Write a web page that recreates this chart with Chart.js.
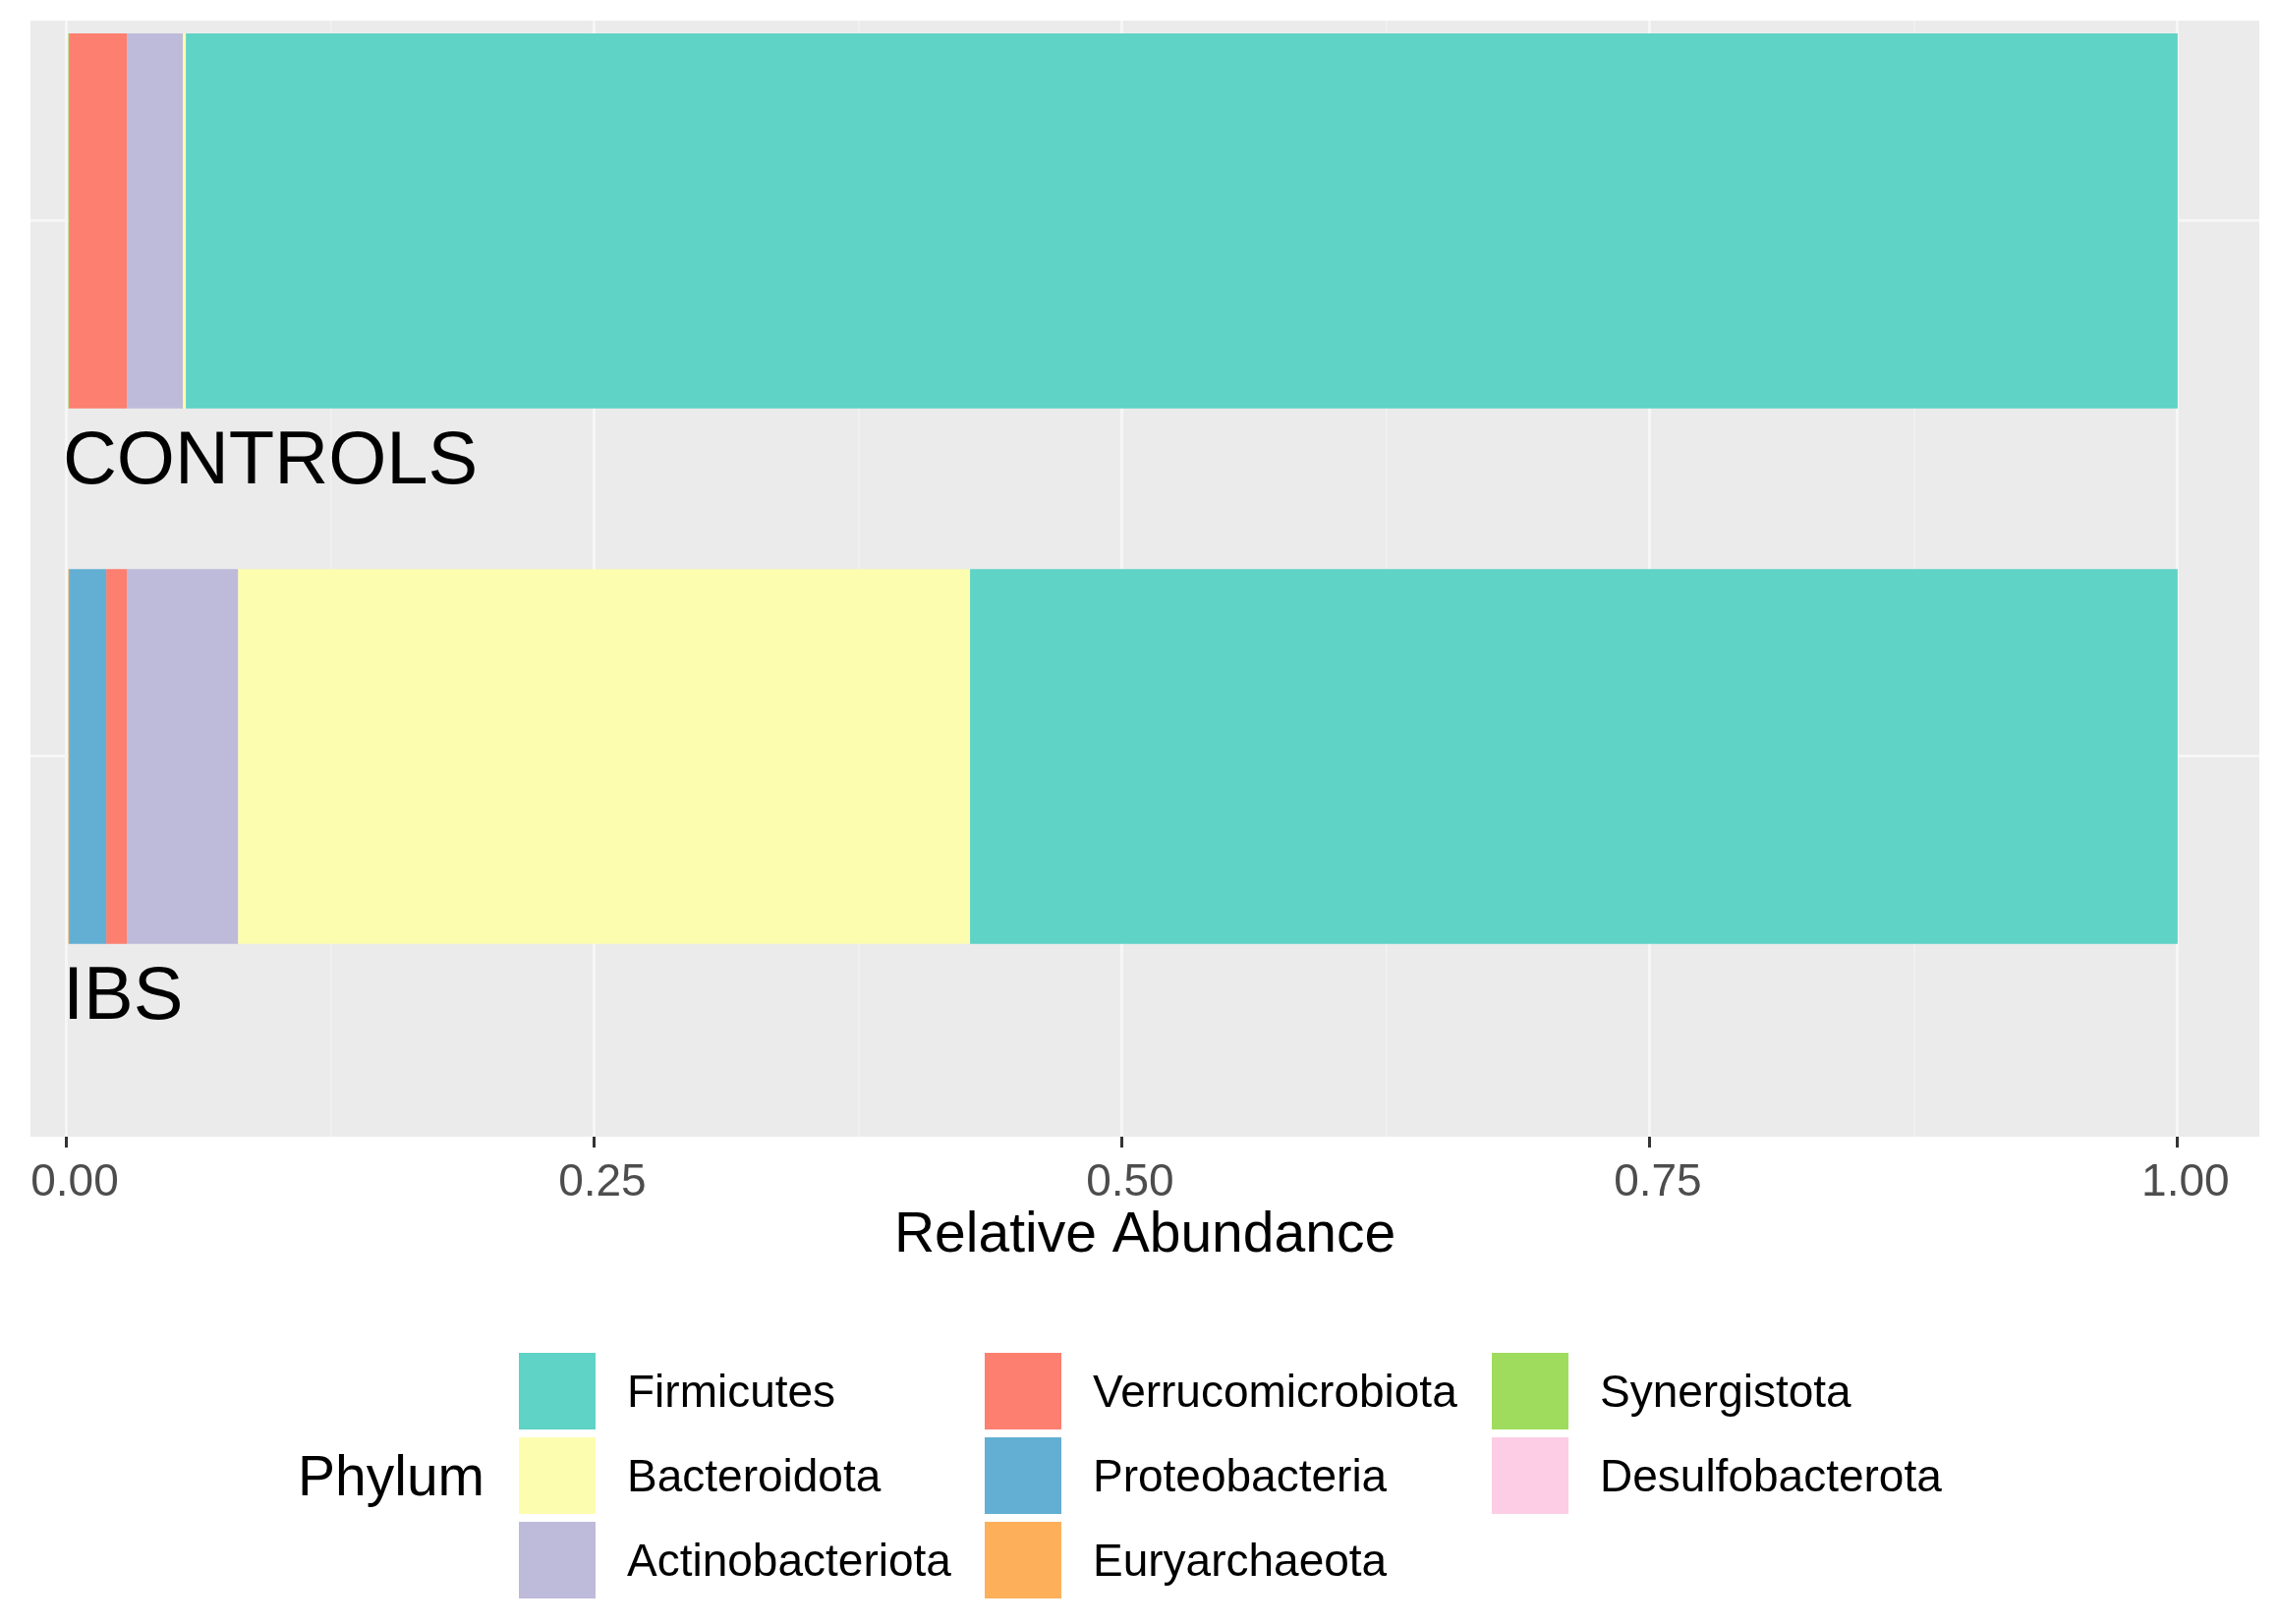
<!DOCTYPE html>
<html>
<head>
<meta charset="utf-8">
<title>Relative Abundance by Phylum</title>
<script src="https://cdn.jsdelivr.net/npm/chart.js@4.4.1/dist/chart.umd.min.js"></script>
<style>
    html, body { margin: 0; padding: 0; background: #ffffff; }
    #chart { display: block; }
</style>
</head>
<body>
<canvas id="chart" width="2318" height="1653"></canvas>
<script>
// Groups, top to bottom
const groups = ['CONTROLS', 'IBS'];

// Phyla in legend order
const phyla = [
    'Firmicutes', 'Bacteroidota', 'Actinobacteriota',
    'Verrucomicrobiota', 'Proteobacteria', 'Euryarchaeota',
    'Synergistota', 'Desulfobacterota'
];

// Relative abundance: [CONTROLS, IBS]
const firmicutes        = [0.9436, 0.5721];
const bacteroidota      = [0.0014, 0.3468];
const actinobacteriota  = [0.0265, 0.0526];
const verrucomicrobiota = [0.0275, 0.0098];
const proteobacteria    = [0.0000, 0.0177];
const euryarchaeota     = [0.0000, 0.0010];
const synergistota      = [0.0010, 0.0000];
const desulfobacterota  = [0.0000, 0.0000];

const xTicks = [0, 0.25, 0.5, 0.75, 1];
const xTickLabels = ['0.00', '0.25', '0.50', '0.75', '1.00'];

const abundance = {
    Firmicutes: firmicutes,
    Bacteroidota: bacteroidota,
    Actinobacteriota: actinobacteriota,
    Verrucomicrobiota: verrucomicrobiota,
    Proteobacteria: proteobacteria,
    Euryarchaeota: euryarchaeota,
    Synergistota: synergistota,
    Desulfobacterota: desulfobacterota
};

const phylumColors = {
    Firmicutes: '#5ED3C6',
    Bacteroidota: '#FDFDB0',
    Actinobacteriota: '#BEBADA',
    Verrucomicrobiota: '#FC7F6F',
    Proteobacteria: '#62AFD3',
    Euryarchaeota: '#FDAF5A',
    Synergistota: '#9FDC5E',
    Desulfobacterota: '#FDCCE5'
};

const FONT = '"Liberation Sans", Arial, sans-serif';

function isMajor(v) {
    return Math.abs(v * 4 - Math.round(v * 4)) < 1e-6;
}

// grey panel behind the grid
const panelBackground = {
    id: 'panelBackground',
    beforeDraw(chart) {
        const { ctx, chartArea } = chart;
        ctx.save();
        ctx.fillStyle = '#EBEBEB';
        ctx.fillRect(chartArea.left, chartArea.top, chartArea.right - chartArea.left, chartArea.bottom - chartArea.top);
        ctx.restore();
    }
};

// group labels, x tick labels, axis title and legend
const annotations = {
    id: 'annotations',
    afterDraw(chart) {
        const { ctx, chartArea } = chart;
        const xScale = chart.scales.x;
        const yScale = chart.scales.y;
        ctx.save();

        // Group labels under each bar
        ctx.fillStyle = '#000000';
        ctx.font = '76px ' + FONT;
        ctx.textAlign = 'left';
        ctx.textBaseline = 'alphabetic';
        groups.forEach((name, i) => {
            ctx.fillText(name, xScale.getPixelForValue(0) - 4, yScale.getPixelForValue(i + 0.49));
        });

        // X tick labels
        ctx.fillStyle = '#4D4D4D';
        ctx.font = '46px ' + FONT;
        ctx.textAlign = 'center';
        xTicks.forEach((v, i) => {
            ctx.fillText(xTickLabels[i], xScale.getPixelForValue(v) + 8, chartArea.bottom + 60);
        });

        // Axis title
        ctx.fillStyle = '#000000';
        ctx.font = '57px ' + FONT;
        ctx.fillText('Relative Abundance', (chartArea.left + chartArea.right) / 2, chartArea.bottom + 117);

        // Legend
        const keySize = 78;
        const rowTop = [1377, 1463, 1549];
        const colKeyX = [528, 1002, 1518];
        const textGap = 32;

        ctx.textAlign = 'left';
        ctx.font = '57px ' + FONT;
        ctx.fillText('Phylum', 303, rowTop[1] + keySize / 2 + 20);

        ctx.font = '46px ' + FONT;
        phyla.forEach((name, i) => {
            const col = Math.floor(i / 3);
            const row = i % 3;
            const x = colKeyX[col];
            const y = rowTop[row];
            ctx.fillStyle = phylumColors[name];
            ctx.fillRect(x, y, keySize, keySize);
            ctx.fillStyle = '#000000';
            ctx.fillText(name, x + keySize + textGap, y + keySize / 2 + 16);
        });

        ctx.restore();
    }
};

// leftmost segment first, so Firmicutes ends up on the right
const datasets = phyla.slice().reverse().map(name => ({
    label: name,
    data: abundance[name].map((v, i) => ({ x: v, y: i })),
    backgroundColor: phylumColors[name],
    borderWidth: 0,
    barPercentage: 0.7,
    categoryPercentage: 1
}));

const ctx = document.getElementById('chart');
new Chart(ctx, {
    type: 'bar',
    data: { datasets: datasets },
    options: {
        indexAxis: 'y',
        responsive: false,
        animation: false,
        layout: {
            padding: { left: 31, right: 19, top: 21, bottom: 485 }
        },
        plugins: {
            legend: { display: false },
            tooltip: { enabled: false }
        },
        scales: {
            x: {
                type: 'linear',
                stacked: true,
                min: -0.0172,
                max: 1.0387,
                offset: false,
                ticks: { stepSize: 0.125, includeBounds: false, display: false },
                grid: {
                    offset: false,
                    color: c => isMajor(c.tick.value) ? '#F6F6F6' : '#F2F2F2',
                    lineWidth: c => isMajor(c.tick.value) ? 3 : 1.5,
                    drawTicks: true,
                    tickLength: 11,
                    tickWidth: 3,
                    tickColor: c => isMajor(c.tick.value) ? '#333333' : 'rgba(0,0,0,0)'
                },
                border: { display: false }
            },
            y: {
                type: 'linear',
                stacked: true,
                reverse: true,
                min: -0.374,
                max: 1.71,
                offset: false,
                ticks: { stepSize: 1, includeBounds: false, display: false },
                grid: { offset: false, color: '#F6F6F6', lineWidth: 3, drawTicks: false },
                border: { display: false }
            }
        }
    },
    plugins: [panelBackground, annotations]
});
</script>
</body>
</html>
